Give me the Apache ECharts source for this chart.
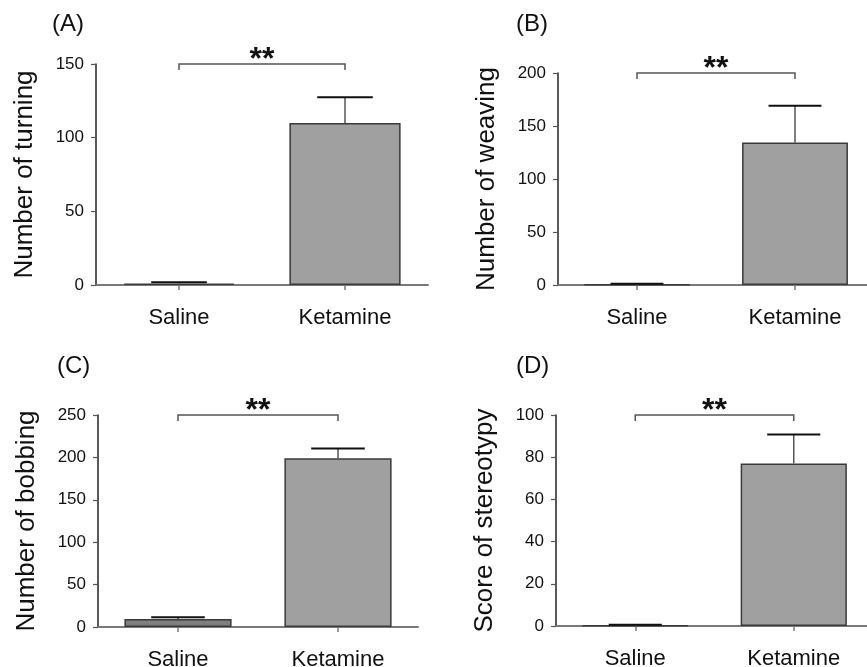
<!DOCTYPE html>
<html>
<head>
<meta charset="utf-8">
<script src="https://cdn.jsdelivr.net/npm/echarts@6/dist/echarts.min.js"></script>
<style>html,body{margin:0;padding:0;background:#fff;}#c{width:867px;height:667px;}</style>
</head>
<body>
<div id="c"></div>
<script>
const categories = ['Saline', 'Ketamine'];
const panelLabels = ['(A)', '(B)', '(C)', '(D)'];
const yTitles = ['Number of turning', 'Number of weaving', 'Number of bobbing', 'Score of stereotypy'];
const yMax = [150, 200, 250, 100];
const yInterval = [50, 50, 50, 20];
const turningMean = [1, 110];
const turningSem = [0.8, 17.5];
const weavingMean = [0.5, 134.5];
const weavingSem = [0.7, 34.5];
const bobbingMean = [9.5, 199];
const bobbingSem = [2, 11.5];
const stereotypyMean = [0.3, 77];
const stereotypySem = [0.3, 13.8];
const sigLevel = [150, 200, 250, 100];
const sigText = ['**', '**', '**', '**'];

const means = [turningMean, weavingMean, bobbingMean, stereotypyMean];
const sems = [turningSem, weavingSem, bobbingSem, stereotypySem];

const FONT = 'Liberation Sans, Arial, Helvetica, sans-serif';
const grids = [
  {left: 96, top: 64, width: 332, height: 221},
  {left: 558, top: 73, width: 316, height: 212},
  {left: 98, top: 415, width: 320, height: 212},
  {left: 556, top: 415, width: 317, height: 211}
];
const labelPos = [[52, 24], [516, 24], [57, 366], [516, 366]];
const barColors = ['#7f7f7f', '#a0a0a0'];

const option = {
  backgroundColor: '#fff',
  animation: false,
  textStyle: {fontFamily: FONT},
  grid: grids.map(g => Object.assign({outerBoundsMode: 'none', containLabel: false}, g)),
  xAxis: grids.map((g, i) => ({
    type: 'category', gridIndex: i, data: categories,
    axisLine: {show: true, lineStyle: {color: '#7a7a7a', width: 2}},
    axisTick: {show: true, alignWithLabel: true, length: 5, lineStyle: {color: '#7a7a7a', width: 1.5}},
    axisLabel: {fontSize: 22, color: '#111', margin: 22, fontFamily: FONT},
    splitLine: {show: false}
  })),
  yAxis: grids.map((g, i) => ({
    type: 'value', gridIndex: i, min: 0, max: yMax[i], interval: yInterval[i],
    name: yTitles[i], nameLocation: 'middle', nameRotate: 90, nameGap: 58,
    nameTextStyle: {fontSize: 26, color: '#111', fontFamily: FONT},
    axisLine: {show: true, lineStyle: {color: '#222', width: 1.5}},
    axisTick: {show: true, length: 5, lineStyle: {color: '#555', width: 1.2}},
    axisLabel: {fontSize: 17, color: '#111', margin: 12, fontFamily: FONT},
    splitLine: {show: false}
  })),
  graphic: panelLabels.map((t, i) => ({
    type: 'text', x: labelPos[i][0], y: labelPos[i][1],
    style: {text: t, fontSize: 24, fill: '#111', fontFamily: FONT, verticalAlign: 'middle', align: 'left'}
  })),
  series: []
};

grids.forEach((g, i) => {
  option.series.push({
    type: 'bar', xAxisIndex: i, yAxisIndex: i, barWidth: '67%',
    data: means[i].map((v, k) => ({value: v, itemStyle: {color: barColors[k]}})),
    itemStyle: {borderColor: '#3a3a3a', borderWidth: 1.5},
    z: 2
  });
  option.series.push({
    type: 'custom', xAxisIndex: i, yAxisIndex: i, z: 5,
    data: means[i].map((v, k) => [k, v, sems[i][k]]),
    encode: {x: 0, y: 1},
    renderItem: function (params, api) {
      const x = api.value(0), m = api.value(1), e = api.value(2);
      const p0 = api.coord([x, m]);
      const p1 = api.coord([x, m + e]);
      const half = api.size([1, 0])[0] * 0.67 * 0.25;
      return {type: 'group', children: [
        {type: 'line', shape: {x1: p0[0], y1: p0[1], x2: p1[0], y2: p1[1]}, style: {stroke: '#555', lineWidth: 1.5}},
        {type: 'line', shape: {x1: p1[0] - half, y1: p1[1], x2: p1[0] + half, y2: p1[1]}, style: {stroke: '#111', lineWidth: 2}}
      ]};
    }
  });
  option.series.push({
    type: 'custom', xAxisIndex: i, yAxisIndex: i, z: 5, clip: false,
    data: [[0, 1, sigLevel[i]]],
    renderItem: function (params, api) {
      const y = api.value(2);
      const a = api.coord([api.value(0), y]);
      const b = api.coord([api.value(1), y]);
      return {type: 'group', children: [
        {type: 'polyline', shape: {points: [[a[0], a[1] + 6], [a[0], a[1]], [b[0], b[1]], [b[0], b[1] + 6]]},
         style: {stroke: '#555', lineWidth: 1.5, fill: null}},
        {type: 'text', x: (a[0] + b[0]) / 2, y: a[1] - 4,
         style: {text: sigText[i], fontSize: 32, fontWeight: 'bold', fill: '#111', fontFamily: FONT, align: 'center', verticalAlign: 'middle'}}
      ]};
    }
  });
});

const chart = echarts.init(document.getElementById('c'), null, {renderer: 'canvas'});
chart.setOption(option);
</script>
</body>
</html>
